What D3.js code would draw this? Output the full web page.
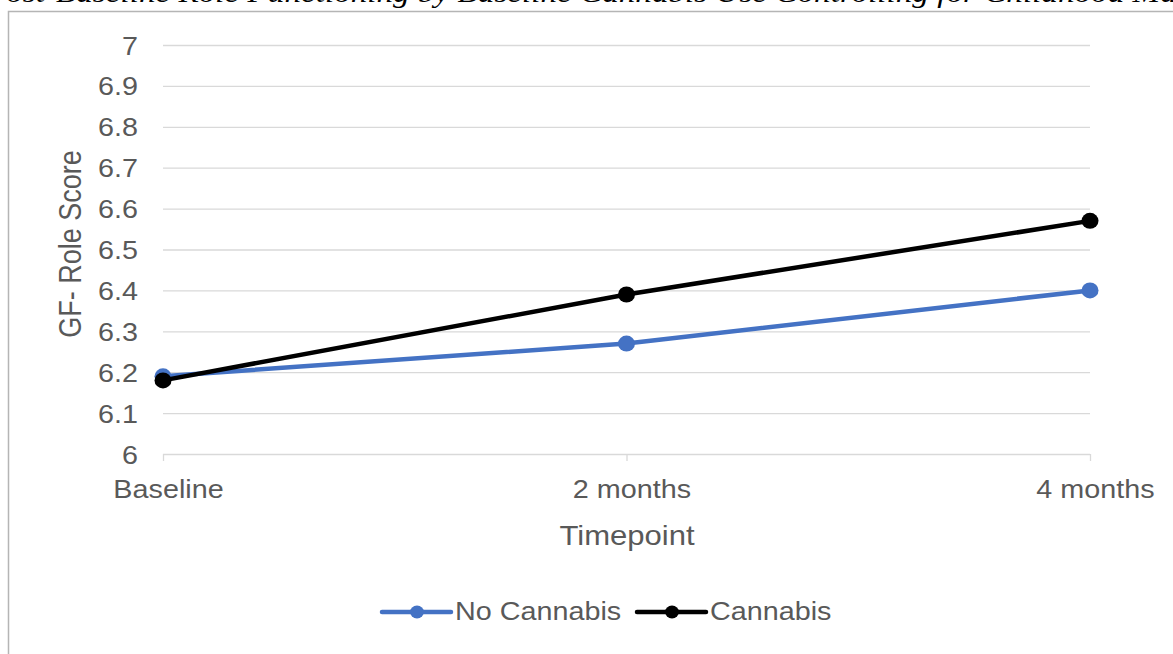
<!DOCTYPE html>
<html>
<head>
<meta charset="utf-8">
<script src="https://cdn.jsdelivr.net/npm/d3@7"></script>
<style>
  html, body { margin: 0; padding: 0; background: #fff; }
  svg { display: block; }
  text { font-family: "Liberation Sans", Arial, Helvetica, sans-serif; }
</style>
</head>
<body>
<svg id="chart" width="1173" height="654"></svg>
<script>
// Data
const categories = ["Baseline", "2 months", "4 months"];
const noCannabis = [6.19, 6.27, 6.40];
const cannabis = [6.18, 6.39, 6.57];
const yTicks = [6, 6.1, 6.2, 6.3, 6.4, 6.5, 6.6, 6.7, 6.8, 6.9, 7];
const seriesNames = ["No Cannabis", "Cannabis"];
const seriesColors = ["#4472c4", "#000000"];
const titleText = "Post-Baseline Role Functioning by Baseline Cannabis Use Controlling for Childhood Maj";

const SX = 1.15;            // horizontal glyph stretch
const textColor = "#595959";
const svg = d3.select("#chart");

// Caption line above the chart frame (mostly cut off by the top edge)
svg.append("text")
  .attr("x", -14).attr("y", 1.5)
  .attr("textLength", 1200).attr("lengthAdjust", "spacingAndGlyphs")
  .style("font-family", "'Liberation Serif', 'Times New Roman', serif")
  .style("font-style", "italic")
  .style("font-size", "28px")
  .attr("fill", "#000")
  .text(titleText);

// Chart frame
svg.append("rect")
  .attr("x", 8.5).attr("y", 11.5)
  .attr("width", 1200).attr("height", 700)
  .attr("fill", "none").attr("stroke", "#b5b5b5").attr("stroke-width", 1.5);

const x = d3.scalePoint().domain(categories).range([163, 1090]);
const y = d3.scaleLinear().domain([6, 7]).range([454, 45]);

// Y axis with gridlines
const yAxis = svg.append("g")
  .attr("transform", "translate(163,0)")
  .call(d3.axisLeft(y).tickValues(yTicks).tickSize(-(1090 - 163)).tickFormat(d3.format("~g")));
yAxis.select(".domain").remove();
yAxis.selectAll(".tick line").attr("stroke", "#d9d9d9").attr("stroke-width", 1.3);
yAxis.selectAll(".tick text")
  .attr("x", -25 / SX).attr("dy", "0.36em")
  .attr("transform", `scale(${SX},1)`)
  .attr("fill", textColor).style("font-size", "25px");

// X axis
const xAxis = svg.append("g")
  .attr("transform", "translate(0,454)")
  .call(d3.axisBottom(x).tickSize(7).tickSizeOuter(0));
xAxis.select(".domain").remove();
xAxis.selectAll(".tick line").attr("stroke", "#d9d9d9").attr("stroke-width", 1.3);
xAxis.selectAll(".tick text")
  .attr("x", 5 / SX).attr("y", 44).attr("dy", 0)
  .attr("transform", `scale(${SX},1)`)
  .attr("fill", textColor).style("font-size", "25px");

// Axis titles
svg.append("text")
  .attr("transform", `translate(627,545) scale(${SX},1)`)
  .attr("text-anchor", "middle")
  .attr("fill", textColor).style("font-size", "27px")
  .text("Timepoint");

svg.append("text")
  .attr("transform", `translate(70,244) scale(${SX},1) rotate(-90)`)
  .attr("text-anchor", "middle").attr("dy", "0.36em")
  .attr("fill", textColor).style("font-size", "27px")
  .text("GF- Role Score");

// Series lines and markers
const line = d3.line().x((d, i) => x(categories[i])).y(d => y(d));
[noCannabis, cannabis].forEach((vals, s) => {
  const g = svg.append("g");
  g.append("path").datum(vals)
    .attr("d", line).attr("fill", "none")
    .attr("stroke", seriesColors[s]).attr("stroke-width", 4.5)
    .attr("stroke-linejoin", "round").attr("stroke-linecap", "round");
  g.selectAll("ellipse").data(vals).join("ellipse")
    .attr("cx", (d, i) => x(categories[i])).attr("cy", d => y(d))
    .attr("rx", 8.5).attr("ry", 8)
    .attr("fill", seriesColors[s]);
});

// Legend
const legendItems = [
  { name: seriesNames[0], color: seriesColors[0], x0: 382 },
  { name: seriesNames[1], color: seriesColors[1], x0: 637 }
];
legendItems.forEach(it => {
  const g = svg.append("g");
  g.append("line")
    .attr("x1", it.x0).attr("x2", it.x0 + 69)
    .attr("y1", 612).attr("y2", 612)
    .attr("stroke", it.color).attr("stroke-width", 4.5).attr("stroke-linecap", "round");
  g.append("ellipse")
    .attr("cx", it.x0 + 35).attr("cy", 612).attr("rx", 7).attr("ry", 6.5)
    .attr("fill", it.color);
  g.append("text")
    .attr("transform", `translate(${it.x0 + 73},620) scale(${SX},1)`)
    .attr("fill", textColor).style("font-size", "25px")
    .text(it.name);
});
</script>
</body>
</html>
